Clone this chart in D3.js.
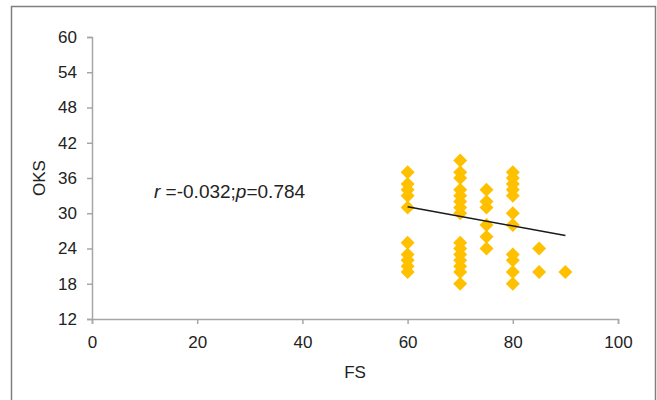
<!DOCTYPE html>
<html>
<head>
<meta charset="utf-8">
<script src="https://cdn.jsdelivr.net/npm/d3@7"></script>
<style>
    body { margin: 0; background: #fff; }
    svg { display: block; font-family: "Liberation Sans", Arial, sans-serif; }
</style>
</head>
<body>
<svg id="chart"></svg>
<script>
// FS / OKS pairs
const fsValues = [
    60, 60, 60, 60, 60, 60, 60, 60, 60, 60,
    70, 70, 70, 70, 70, 70, 70, 70, 70, 70, 70, 70, 70, 70, 70,
    75, 75, 75, 75, 75, 75,
    80, 80, 80, 80, 80, 80, 80, 80, 80, 80, 80,
    85, 85,
    90
];
const oksValues = [
    37, 35, 34, 33, 31, 25, 23, 22, 21, 20,
    39, 37, 36, 34, 33, 32, 31, 30, 25, 24, 23, 22, 21, 20, 18,
    34, 32, 31, 28, 26, 24,
    37, 36, 35, 34, 33, 30, 28, 23, 22, 20, 18,
    24, 20,
    20
];
const trendFs = [60, 90];
const trendOks = [31.1, 26.2];
const xTicks = [0, 20, 40, 60, 80, 100];
const yTicks = [12, 18, 24, 30, 36, 42, 48, 54, 60];

class ScatterVis {
    constructor(_config) {
        this.config = {
            parentElement: _config.parentElement,
            width: 526,
            height: 282,
            margin: { top: 37, right: 39, bottom: 81, left: 92 }
        }
        this.data = fsValues.map((d, i) => ({ fs: d, oks: oksValues[i] }));
        this.trend = trendFs.map((d, i) => ({ fs: d, oks: trendOks[i] }));
        this.initVis();
    }

    initVis() {
        let vis = this;
        const m = vis.config.margin;

        vis.svg = d3.select(vis.config.parentElement)
            .attr('width', 657)
            .attr('height', 400);

        // outer frame
        vis.svg.append('rect')
            .attr('x', 11.5)
            .attr('y', 6.5)
            .attr('width', 644)
            .attr('height', 420)
            .attr('fill', 'none')
            .attr('stroke', '#7f7f7f')
            .attr('stroke-width', 1.5);

        vis.xScale = d3.scaleLinear()
            .domain([0, 100])
            .range([0, vis.config.width]);

        vis.yScale = d3.scaleLinear()
            .domain([12, 60])
            .range([vis.config.height, 0]);

        vis.xAxis = d3.axisBottom(vis.xScale)
            .tickValues(xTicks)
            .tickSize(5)
            .tickPadding(12);

        vis.yAxis = d3.axisLeft(vis.yScale)
            .tickValues(yTicks)
            .tickSize(5)
            .tickPadding(10);

        vis.chart = vis.svg.append('g')
            .attr('transform', `translate(${m.left}, ${m.top})`);

        vis.xAxisG = vis.chart.append('g')
            .attr('class', 'x-axis')
            .attr('transform', `translate(0, ${vis.config.height})`);

        vis.yAxisG = vis.chart.append('g')
            .attr('class', 'y-axis');

        vis.svg.append('text')
            .attr('x', m.left + vis.config.width / 2)
            .attr('y', 378)
            .attr('text-anchor', 'middle')
            .style('font-size', '17px')
            .attr('fill', '#222')
            .text('FS');

        vis.svg.append('text')
            .attr('transform', `translate(45, ${m.top + vis.config.height / 2}) rotate(-90)`)
            .attr('text-anchor', 'middle')
            .style('font-size', '17px')
            .attr('fill', '#222')
            .text('OKS');

        vis.renderVis();
    }

    renderVis() {
        let vis = this;

        vis.xAxisG.call(vis.xAxis);
        vis.yAxisG.call(vis.yAxis);

        vis.svg.selectAll('.domain, .tick line')
            .attr('stroke', '#a6a6a6')
            .attr('stroke-width', 1.5);
        vis.svg.selectAll('.tick text')
            .style('font-size', '17px')
            .style('font-family', '"Liberation Sans", Arial, sans-serif')
            .attr('fill', '#222');

        const diamond = 'M0,-7L7,0L0,7L-7,0Z';

        vis.chart.selectAll('.point')
            .data(vis.data)
            .enter()
            .append('path')
            .attr('class', 'point')
            .attr('d', diamond)
            .attr('transform', d => `translate(${vis.xScale(d.fs)}, ${vis.yScale(d.oks)})`)
            .attr('fill', '#ffc000');

        const line = d3.line()
            .x(d => vis.xScale(d.fs))
            .y(d => vis.yScale(d.oks));

        vis.chart.append('path')
            .datum(vis.trend)
            .attr('d', line)
            .attr('fill', 'none')
            .attr('stroke', '#1a1a1a')
            .attr('stroke-width', 1.5);

        // correlation note
        const note = vis.svg.append('text')
            .attr('x', 154)
            .attr('y', 198)
            .style('font-size', '19px')
            .attr('fill', '#222');
        note.append('tspan').style('font-style', 'italic').text('r');
        note.append('tspan').text(' =-0.032;');
        note.append('tspan').style('font-style', 'italic').text('p');
        note.append('tspan').text('=0.784');
    }
}

new ScatterVis({ parentElement: '#chart' });
</script>
</body>
</html>
